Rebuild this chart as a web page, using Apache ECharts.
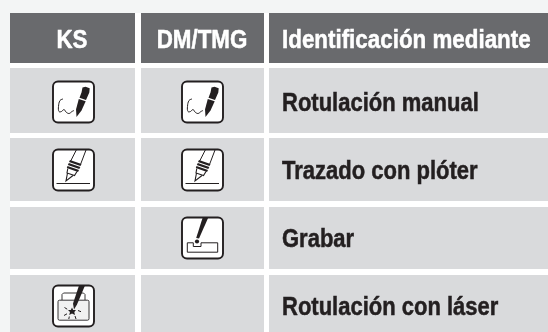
<!DOCTYPE html>
<html><head><meta charset="utf-8">
<style>html,body{margin:0;padding:0;background:#fff}#c{width:548px;height:332px}</style>
<script src="https://cdn.jsdelivr.net/npm/echarts@6/dist/echarts.min.js"></script></head>
<body><div id="c"></div>
<script>
// Table content
const headers = ['KS', 'DM/TMG', 'Identificación mediante'];
const labels = ['Rotulación manual', 'Trazado con plóter', 'Grabar', 'Rotulación con láser'];
const ksIcons = ['pen', 'plotter', null, 'laser'];
const dmIcons = ['pen', 'plotter', 'engrave', null];

// Layout (pixels)
const colEdges = [[10, 135], [141, 264], [269, 548]];
const rowEdges = [[13, 63], [68, 133], [138, 201], [207, 269], [275, 332]];
const rowMid = [40, 102, 170, 238, 306];
const iconMid = [73.5, 202.5];
const ICON = 43;
const TEXT_DY = 2;
const INK = '#231f20';
const HEAD = '#696a6d', CELL = '#d9dadc', PAGE = '#f3f5f5';

function line(pts, w) { return { type: 'polyline', shape: { points: pts }, style: { fill: null, stroke: INK, lineWidth: w || 1 } }; }
function soft(pts, w) { return { type: 'polyline', shape: { points: pts, smooth: 0.4 }, style: { fill: null, stroke: INK, lineWidth: w || 1 } }; }
function poly(pts, fill) { return { type: 'polygon', shape: { points: pts }, style: { fill: fill || INK, stroke: null } }; }

const glyphs = {
  pen: [
    poly([[30.5, 7], [33.5, 6.2], [37.7, 7.7], [37.3, 12], [34, 19.5], [27.5, 17.2], [29.5, 12]]),
    poly([[26.8, 18.5], [33.7, 20.8], [29.5, 30], [24.5, 36.5], [24, 29]]),
    soft([[11, 18.5], [8, 20], [6.5, 26], [7, 31], [9.5, 31], [12, 29], [14, 31.5], [17, 33], [20, 31], [22, 30]], 1)
  ],
  plotter: [
    line([[4.5, 35], [38, 35]], 1.2),
    line([[24.3, 1.5], [18.7, 12.5]], 1), line([[34, 1.5], [28.7, 15.5]], 1),
    poly([[18, 11.5], [29.5, 15.5], [28.5, 17.5], [17, 13.5]]),
    poly([[16.8, 14.5], [28.3, 18.5], [27.3, 20.5], [15.8, 16.5]]),
    poly([[15.5, 17.5], [27, 21.5], [26, 23.5], [14.8, 19.5]]),
    line([[15.8, 20], [15, 24.5], [22.5, 27], [25, 23]], 1.1),
    line([[15.5, 24.5], [14, 32.5], [21, 27]], 1.1)
  ],
  engrave: [
    poly([[21.7, 1], [27.3, 1], [18, 22], [15.2, 21.5]]),
    { type: 'circle', shape: { cx: 16, cy: 25, r: 2.1 }, style: { fill: INK } },
    line([[6.3, 26.3], [12.3, 26.3], [12.3, 30], [20, 30], [20, 26.3], [36.7, 26.3], [36.7, 35.7], [6.3, 35.7], [6.3, 26.3]], 1)
  ],
  laser: [
    { type: 'rect', shape: { x: 6, y: 15.7, width: 31, height: 20, r: 1.5 }, style: { fill: '#f1f1f1', stroke: INK, lineWidth: 0.9 } },
    line([[10, 15.5], [10, 10], [11.5, 8.5], [31.5, 8.5], [33, 10], [33, 15.5]], 0.9),
    poly([[27, 1], [33, 1], [25, 20], [22, 25], [21, 19]]),
    poly([[20, 23], [21.2, 25.5], [24, 25.5], [22.3, 27.5], [23, 30.5], [20, 29], [17.2, 30.5], [18, 27.5], [16, 25.5], [18.8, 25.5]]),
    line([[12.5, 23], [15.2, 24.7]], 1), line([[12, 31], [15, 29.3]], 1),
    line([[26, 26], [29, 27.2]], 1), line([[17.3, 32], [16.8, 34.5]], 1),
    line([[23, 31.5], [24, 34.5]], 1)
  ]
};

function iconGroup(name, cx, cy) {
  return {
    type: 'group', x: cx - ICON / 2, y: cy - ICON / 2,
    children: [{ type: 'rect', shape: { x: 1, y: 1, width: ICON - 2, height: ICON - 2, r: 5 }, style: { fill: '#fff', stroke: INK, lineWidth: 1.9 } }].concat(glyphs[name])
  };
}

const cells = [];
rowEdges.forEach((_, r) => colEdges.forEach((_, c) => cells.push([c, r])));

function textEl(str, x, y, fill, align, sx) {
  return {
    type: 'text', x: x, y: y + TEXT_DY, scaleX: sx, scaleY: 1,
    style: { text: str, fill: fill, stroke: fill, lineWidth: 0.5, font: 'bold 25px "Liberation Sans", Arial, sans-serif', align: align, verticalAlign: 'middle' }
  };
}

function renderCell(params, api) {
  const c = api.value(0), r = api.value(1);
  const p0 = api.coord([colEdges[c][0], rowEdges[r][0]]);
  const p1 = api.coord([colEdges[c][1], rowEdges[r][1]]);
  const kids = [{ type: 'rect', shape: { x: p0[0], y: p0[1], width: p1[0] - p0[0], height: p1[1] - p0[1] }, style: { fill: r === 0 ? HEAD : CELL } }];
  const cy = api.coord([0, rowMid[r]])[1];
  if (r === 0) {
    const left = c === 2;
    kids.push(textEl(headers[c], left ? p0[0] + 13 : (p0[0] + p1[0]) / 2 - 0.5, cy - 0.5, '#fff', left ? 'left' : 'center', 0.895));
  } else if (c === 2) {
    kids.push(textEl(labels[r - 1], p0[0] + 13, cy, INK, 'left', 0.88));
  } else {
    const name = (c === 0 ? ksIcons : dmIcons)[r - 1];
    if (name) kids.push(iconGroup(name, iconMid[c], cy));
  }
  return { type: 'group', children: kids };
}

const chart = echarts.init(document.getElementById('c'), null, { renderer: 'canvas' });
chart.setOption({
  animation: false,
  backgroundColor: '#fff',
  grid: { left: 0, right: 0, top: 0, bottom: 0 },
  xAxis: { type: 'value', min: 0, max: 548, show: false },
  yAxis: { type: 'value', min: 0, max: 332, inverse: true, show: false },
  graphic: [
    { type: 'rect', z: -1, shape: { x: 0, y: 0, width: 548, height: 13 }, style: { fill: PAGE } },
    { type: 'rect', z: -1, shape: { x: 0, y: 0, width: 10, height: 332 }, style: { fill: PAGE } }
  ],
  series: [{ type: 'custom', data: cells, renderItem: renderCell, clip: false, silent: true, encode: { x: 0, y: 1 } }]
});
</script></body></html>
